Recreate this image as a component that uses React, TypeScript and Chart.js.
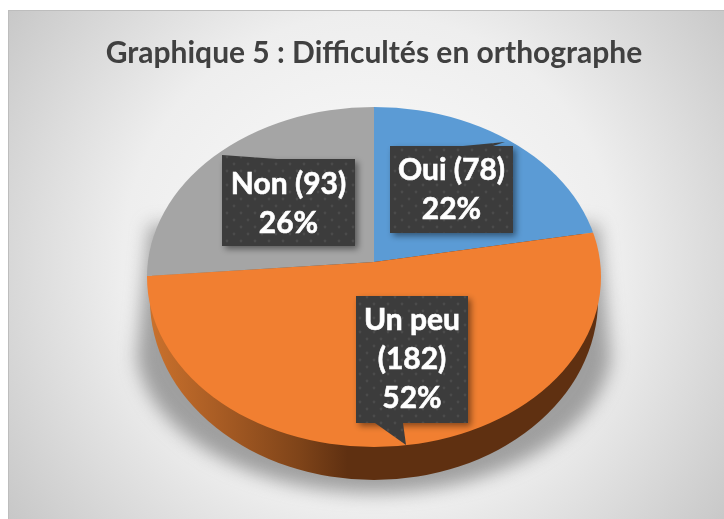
import React, { useEffect, useRef } from "react";
import { Chart, registerables } from "chart.js";

Chart.register(...registerables);

const categories = ["Oui", "Un peu", "Non"];
const counts = [78, 182, 93];
const sliceColors = ["#5b9bd5", "#f17f31", "#a5a5a5"];
const titleText = "Graphique 5 : Difficultés en orthographe";

const FONT = "Lato";
const total = counts.reduce((a, b) => a + b, 0);

// Callout layout, per category
const callouts = [
  { x: 390, y: 146, w: 123, h: 87, tail: [[463, 146], [505, 142], [493, 146]], lines: (n: string, v: number, p: string) => [`${n} (${v})`, p], first: 180 },
  { x: 356, y: 296, w: 112, h: 127, tail: [[375, 423], [406, 445], [403, 423]], lines: (n: string, v: number, p: string) => [n, `(${v})`, p], first: 330 },
  { x: 222, y: 159, w: 133, h: 87, tail: [[222, 159], [222, 155], [277, 159]], lines: (n: string, v: number, p: string) => [`${n} (${v})`, p], first: 194 },
];
const LINE_STEP = 39;

// Perspective view of the pie
const TOP = { cx: 374, cy: 277, rx: 227, ry: 170 };
const BASE = { cx: 374, cy: 300, rx: 224, ry: 180 };
const DISC_RADIUS = 256;
const SQUASH = 0.73;

function dotPattern(ctx: CanvasRenderingContext2D) {
  const c = document.createElement("canvas");
  c.width = 14;
  c.height = 14;
  const g = c.getContext("2d")!;
  g.fillStyle = "#3c3c3c";
  g.fillRect(0, 0, 14, 14);
  g.fillStyle = "#4b4b4b";
  for (const [x, y] of [[3, 3], [10, 10]]) {
    g.beginPath();
    g.arc(x, y, 1.4, 0, Math.PI * 2);
    g.fill();
  }
  return ctx.createPattern(c, "repeat")!;
}

const scenePlugin = {
  id: "scene",
  beforeDraw(chart: any) {
    const ctx: CanvasRenderingContext2D = chart.ctx;
    ctx.save();
    ctx.fillStyle = "#ffffff";
    ctx.fillRect(0, 0, 724, 519);
    const bg = ctx.createRadialGradient(370, 262, 0, 370, 262, 450);
    bg.addColorStop(0, "#fcfcfc");
    bg.addColorStop(0.55, "#eeeeee");
    bg.addColorStop(1, "#c6c6c6");
    ctx.fillStyle = bg;
    ctx.fillRect(8, 10, 716, 509);
    ctx.fillStyle = "#bdbdbd";
    ctx.fillRect(8, 10, 716, 1);
    ctx.fillRect(8, 10, 1, 509);
    ctx.restore();
  },
  beforeDatasetsDraw(chart: any) {
    const ctx: CanvasRenderingContext2D = chart.ctx;
    // cast shadow
    ctx.save();
    ctx.filter = "blur(9px)";
    ctx.fillStyle = "rgba(110,110,110,0.62)";
    ctx.beginPath();
    ctx.moveTo(150, 225);
    ctx.lineTo(136, 365);
    ctx.ellipse(374, 345, 238, 148, 0, Math.PI * 0.97, Math.PI * 0.03, true);
    ctx.lineTo(598, 225);
    ctx.closePath();
    ctx.fill();
    ctx.restore();
    // wall
    ctx.save();
    const wall = ctx.createLinearGradient(153, 0, 595, 0);
    wall.addColorStop(0, "#c8702c");
    wall.addColorStop(0.15, "#a85c24");
    wall.addColorStop(0.33, "#7f4419");
    wall.addColorStop(0.44, "#5f3011");
    wall.addColorStop(1, "#5f3011");
    ctx.fillStyle = wall;
    ctx.beginPath();
    ctx.ellipse(BASE.cx, BASE.cy, BASE.rx, BASE.ry, 0, 0, Math.PI * 2);
    ctx.fill();
    ctx.restore();
    // squashed disc, clipped to the top face
    const arc = chart.getDatasetMeta(0).data[0];
    const k = DISC_RADIUS / arc.outerRadius;
    ctx.save();
    ctx.beginPath();
    ctx.ellipse(TOP.cx, TOP.cy, TOP.rx, TOP.ry, 0, 0, Math.PI * 2);
    ctx.clip();
    ctx.translate(arc.x, arc.y);
    ctx.scale(k, k * SQUASH);
    ctx.translate(-arc.x, -arc.y);
  },
  afterDatasetsDraw(chart: any) {
    const ctx: CanvasRenderingContext2D = chart.ctx;
    ctx.restore();
    const pattern = dotPattern(ctx);
    categories.forEach((name, i) => {
      const c = callouts[i];
      const pct = `${Math.round((counts[i] / total) * 100)}%`;
      ctx.save();
      ctx.shadowColor = "rgba(0,0,0,0.45)";
      ctx.shadowBlur = 6;
      ctx.shadowOffsetX = 3;
      ctx.shadowOffsetY = 3;
      ctx.fillStyle = pattern;
      ctx.beginPath();
      ctx.rect(c.x, c.y, c.w, c.h);
      ctx.fill();
      ctx.shadowColor = "transparent";
      ctx.beginPath();
      ctx.moveTo(c.tail[0][0], c.tail[0][1]);
      ctx.lineTo(c.tail[1][0], c.tail[1][1]);
      ctx.lineTo(c.tail[2][0], c.tail[2][1]);
      ctx.closePath();
      ctx.fill();
      ctx.fillStyle = "#ffffff";
      ctx.strokeStyle = "#ffffff";
      ctx.lineWidth = 0.6;
      ctx.font = `bold 30px ${FONT}`;
      ctx.textAlign = "center";
      ctx.textBaseline = "alphabetic";
      c.lines(name, counts[i], pct).forEach((line, j) => {
        const x = c.x + c.w / 2;
        const y = c.first + j * LINE_STEP;
        ctx.fillText(line, x, y);
        ctx.strokeText(line, x, y);
      });
      ctx.restore();
    });
  },
};

export default function App() {
  const ref = useRef<HTMLCanvasElement>(null);
  useEffect(() => {
    document.body.style.margin = "0";
    const chart = new Chart(ref.current!, {
      type: "pie",
      data: {
        labels: categories,
        datasets: [{ data: counts, backgroundColor: sliceColors, borderWidth: 0 }],
      },
      options: {
        animation: false,
        responsive: false,
        layout: { padding: { left: 24, right: 0, top: 0, bottom: 66 } },
        plugins: {
          legend: { display: false },
          tooltip: { enabled: false },
          title: {
            display: true,
            text: titleText,
            color: "#404040",
            font: { family: FONT, size: 30, weight: "bold", lineHeight: 1.2 },
            padding: { top: 35, bottom: 0 },
          },
        },
      },
      plugins: [scenePlugin],
    } as any);
    return () => chart.destroy();
  }, []);
  return <canvas ref={ref} width={724} height={519} style={{ display: "block" }} />;
}
